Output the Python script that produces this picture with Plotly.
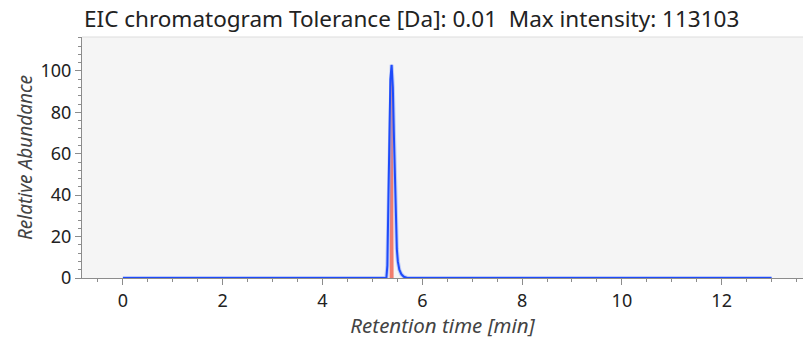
import plotly.graph_objects as go

# Extracted-ion chromatogram: relative abundance vs retention time
rt_blue = [0.0, 5.20, 5.28, 5.30, 5.32, 5.34, 5.36, 5.385, 5.41, 5.43, 5.45, 5.47,
           5.49, 5.51, 5.54, 5.58, 5.63, 5.70, 13.0]
ab_blue = [0.0, 0.0, 0.0, 6.0, 30.0, 70.0, 96.0, 103.0, 92.0, 70.0, 45.0, 25.0,
           14.0, 8.0, 4.0, 1.8, 0.6, 0.0, 0.0]

rt_red = [5.365, 5.375, 5.385, 5.395, 5.405]
ab_red = [0.0, 70.0, 100.0, 70.0, 0.0]

title_text = "EIC chromatogram Tolerance [Da]: 0.01\u00a0 Max intensity: 113103"
x_title = "Retention time [min]"
y_title = "Relative Abundance"

FONT = "Noto Sans"
AXIS_GREY = "#8c8c8c"

fig = go.Figure()
fig.add_trace(go.Scatter(
    x=rt_red, y=ab_red, mode="lines",
    line=dict(color="rgb(240,125,110)", width=2),
    fill="toself", fillcolor="rgb(240,125,110)",
    hoverinfo="skip", showlegend=False,
))
fig.add_trace(go.Scatter(
    x=rt_blue, y=ab_blue, mode="lines",
    line=dict(color="rgba(120,150,255,0.45)", width=4),
    hoverinfo="skip", showlegend=False,
))
fig.add_trace(go.Scatter(
    x=rt_blue, y=ab_blue, mode="lines",
    line=dict(color="rgb(30,75,250)", width=2),
    showlegend=False,
))

fig.update_layout(
    width=803, height=339,
    margin=dict(l=82, r=0, t=37, b=61),
    paper_bgcolor="white",
    plot_bgcolor="#f5f5f5",
    font=dict(family=FONT, color="#222222"),
    title=dict(
        text=title_text,
        x=84 / 803, xref="container", xanchor="left",
        y=1 - 19 / 339, yref="container", yanchor="middle",
        font=dict(family=FONT, size=22.5, color="#222222"),
    ),
    xaxis=dict(
        range=[-0.82, 13.63],
        tickmode="linear", tick0=0, dtick=2,
        ticks="outside", ticklen=6, tickwidth=1, tickcolor=AXIS_GREY,
        minor=dict(dtick=0.5, tick0=0, ticks="outside", ticklen=3,
                   tickcolor=AXIS_GREY, showgrid=False),
        showline=True, linecolor=AXIS_GREY, linewidth=1,
        showgrid=False, zeroline=False,
        tickfont=dict(size=18, color="#222222"),
        title=dict(text=x_title, standoff=4,
                   font=dict(size=20.5, color="#444444", style="italic")),
        layer="below traces",
    ),
    yaxis=dict(
        range=[0, 116.4],
        tickmode="linear", tick0=0, dtick=20,
        ticks="outside", ticklen=6, tickwidth=1, tickcolor=AXIS_GREY,
        minor=dict(dtick=4, tick0=0, ticks="outside", ticklen=3,
                   tickcolor=AXIS_GREY, showgrid=False),
        showline=True, linecolor=AXIS_GREY, linewidth=1,
        showgrid=False, zeroline=False,
        tickfont=dict(size=18, color="#222222"),
        title=dict(text=y_title, standoff=2,
                   font=dict(size=19, color="#444444", style="italic")),
        layer="below traces",
    ),
)

# faint upper frame edge of the plotting area
fig.add_shape(type="line", xref="paper", yref="paper", x0=0, x1=1, y0=1, y1=1,
              line=dict(color="#dddddd", width=1))

fig.write_html("out.html")
